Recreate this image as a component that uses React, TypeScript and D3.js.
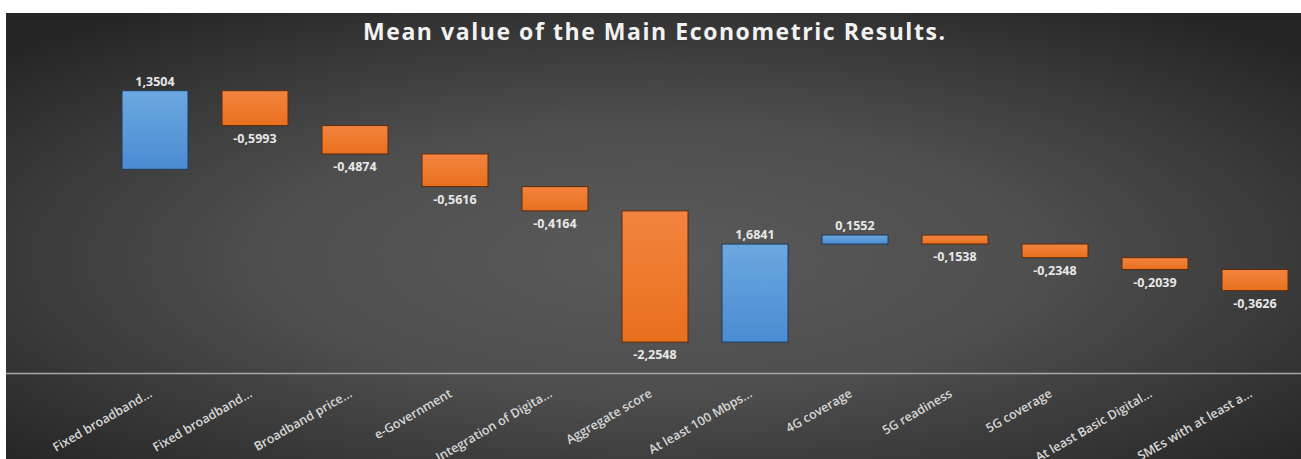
import React from "react";
import * as d3 from "d3";

const categories: string[] = [
  "Fixed broadband...",
  "Fixed broadband...",
  "Broadband price...",
  "e-Government",
  "Integration of Digita...",
  "Aggregate score",
  "At least 100 Mbps...",
  "4G coverage",
  "5G readiness",
  "5G coverage",
  "At least Basic Digital...",
  "SMEs with at least a...",
];

const values: number[] = [
  1.3504, -0.5993, -0.4874, -0.5616, -0.4164, -2.2548, 1.6841, 0.1552, -0.1538,
  -0.2348, -0.2039, -0.3626,
];

const title = "Mean value of the Main Econometric Results.";
const yDomain: [number, number] = [-3.5, 1.5];

const W = 1301;
const H = 459;

function fmt(v: number): string {
  return v.toFixed(4).replace(".", ",");
}

export default function App() {
  const x = d3
    .scaleBand<number>()
    .domain(categories.map((_, i) => i))
    .range([105, 1305])
    .paddingInner(0.34)
    .paddingOuter(0.17);
  const y = d3.scaleLinear().domain(yDomain).range([373, 82]);

  let cum = 0;
  const bars = values.map((v, i) => {
    const start = cum;
    const end = cum + v;
    cum = end;
    return { i, v, start, end };
  });

  const font = "'Open Sans', sans-serif";

  return (
    <svg
      width={W}
      height={H}
      style={{ position: "absolute", left: 0, top: 0 }}
      xmlns="http://www.w3.org/2000/svg"
    >
      <defs>
        <radialGradient id="bg" cx="50%" cy="55%" r="68%">
          <stop offset="0%" stopColor="#5a5a5a" />
          <stop offset="45%" stopColor="#4e4e4e" />
          <stop offset="100%" stopColor="#252525" />
        </radialGradient>
        <linearGradient id="blueG" x1="0" y1="0" x2="0" y2="1">
          <stop offset="0%" stopColor="#6ca8e0" />
          <stop offset="100%" stopColor="#4a8cd2" />
        </linearGradient>
        <linearGradient id="orangeG" x1="0" y1="0" x2="0" y2="1">
          <stop offset="0%" stopColor="#f3843f" />
          <stop offset="100%" stopColor="#e8701d" />
        </linearGradient>
      </defs>
      <rect x={0} y={0} width={W} height={H} fill="#ffffff" />
      <rect x={6} y={13} width={W - 6} height={H - 13} fill="url(#bg)" />
      <text
        x={654}
        y={40}
        textAnchor="middle"
        fill="#f2f2f2"
        fontFamily={font}
        fontWeight="bold"
        fontSize={23}
        textLength={582}
        lengthAdjust="spacing"
      >
        {title}
      </text>
      <line x1={6} x2={W} y1={373.5} y2={373.5} stroke="#a6a6a6" strokeWidth={1.5} />
      {bars.map((b) => {
        const x0 = x(b.i) as number;
        const bw = x.bandwidth();
        const yTop = y(Math.max(b.start, b.end));
        const yBot = y(Math.min(b.start, b.end));
        const pos = b.v >= 0;
        return (
          <g key={b.i}>
            <rect
              x={x0}
              y={yTop}
              width={bw}
              height={Math.max(1, yBot - yTop)}
              fill={pos ? "url(#blueG)" : "url(#orangeG)"}
              stroke={pos ? "#1f3a5c" : "#5c2a0c"}
              strokeWidth={1}
            />
            <text
              x={x0 + bw / 2}
              y={pos ? yTop - 5 : yBot + 17}
              textAnchor="middle"
              fill="#e8e8e8"
              fontFamily={font}
              fontWeight="bold"
              fontSize={12.5}
            >
              {fmt(b.v)}
            </text>
          </g>
        );
      })}
      {categories.map((c, i) => {
        const cx = (x(i) as number) + x.bandwidth() / 2 - 2;
        const cy = 396;
        return (
          <text
            key={i}
            transform={`translate(${cx},${cy}) rotate(-30)`}
            textAnchor="end"
            fill="#d6d6d6"
            fontFamily={font}
            fontWeight={600}
            fontSize={12.5}
          >
            {c}
          </text>
        );
      })}
    </svg>
  );
}
